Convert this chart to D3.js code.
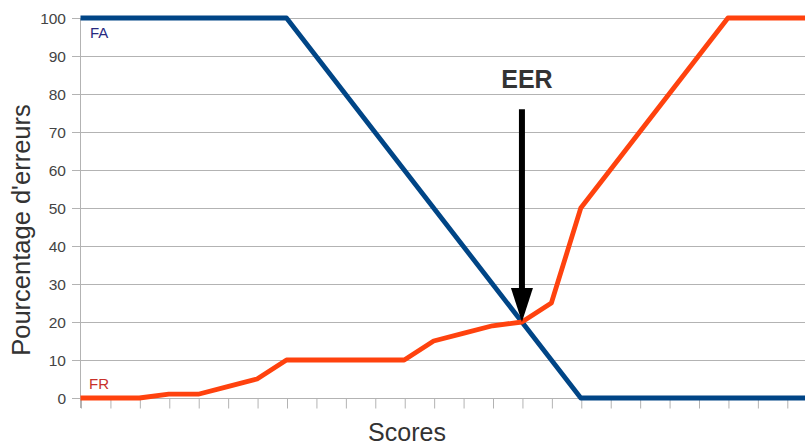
<!DOCTYPE html>
<html>
<head>
<meta charset="utf-8">
<script src="https://cdn.jsdelivr.net/npm/d3@7"></script>
<style>
html,body{margin:0;padding:0;background:#fff;}
svg{display:block;}
</style>
</head>
<body>
<div id="chart"></div>
<script>
const scores = d3.range(0, 26);
const faValues = [100,100,100,100,100,100,100,100,90,80,70,60,50,40,30,20,10,0,0,0,0,0,0,0,0,0];
const frValues = [0,0,0,1,1,3,5,10,10,10,10,10,15,17,19,20,25,50,60,70,80,90,100,100,100,100];
const yTicks = [0,10,20,30,40,50,60,70,80,90,100];
const seriesNames = ["FA", "FR"];
const eerPoint = {index: 15, value: 20, top: 76, label: "EER"};
const xTitle = "Scores";
const yTitle = "Pourcentage d'erreurs";

const W = 805, H = 446;
const FONT = "Liberation Sans, Arial, sans-serif";
const svg = d3.select("#chart").append("svg").attr("width", W).attr("height", H);

const x = d3.scaleLinear().domain([0, 24]).range([80.5, 786.8]);
const y = d3.scaleLinear().domain([0, 100]).range([398, 18]);

svg.append("defs").append("clipPath").attr("id","clip")
  .append("rect").attr("x", 0).attr("y", 0).attr("width", W).attr("height", H);

// gridlines
svg.append("g").selectAll("line").data(yTicks).join("line")
  .attr("x1", 72).attr("x2", W)
  .attr("y1", d => y(d) + 0.5).attr("y2", d => y(d) + 0.5)
  .attr("stroke", "#b3b3b3").attr("stroke-width", 1);

// left axis line
svg.append("line").attr("x1", 80.5).attr("x2", 80.5).attr("y1", y(100)).attr("y2", y(0)+10)
  .attr("stroke", "#b3b3b3").attr("stroke-width", 1);

// y tick labels
svg.append("g").selectAll("text").data(yTicks).join("text")
  .attr("x", 66).attr("y", d => y(d)).attr("dy", "0.36em")
  .attr("text-anchor", "end")
  .attr("font-family", FONT).attr("font-size", 15.5)
  .attr("fill", "#444").text(d => d);

// x ticks
const xAxis = d3.axisBottom(x).tickValues(d3.range(0, 25)).tickSize(10).tickFormat("");
const gx = svg.append("g").attr("transform", `translate(0.5,${y(0)+0.5})`).call(xAxis);
gx.select(".domain").remove();
gx.selectAll(".tick line").attr("stroke", "#b3b3b3");

// lines
const line = d3.line().x((d,i) => x(scores[i])).y(d => y(d)).curve(d3.curveLinear);
const g = svg.append("g").attr("clip-path", "url(#clip)");
g.append("path").datum(faValues).attr("d", line)
  .attr("fill", "none").attr("stroke", "#004586").attr("stroke-width", 4.8)
  .attr("stroke-linejoin", "round");
g.append("path").datum(frValues).attr("d", line)
  .attr("fill", "none").attr("stroke", "#ff420e").attr("stroke-width", 4.8)
  .attr("stroke-linejoin", "round");

// series labels
svg.append("text").attr("x", 90).attr("y", 38)
  .attr("font-family", FONT).attr("font-size", 15)
  .attr("fill", "#27297f").text(seriesNames[0]);
svg.append("text").attr("x", 89).attr("y", 389)
  .attr("font-family", FONT).attr("font-size", 15)
  .attr("fill", "#c8302a").text(seriesNames[1]);

// EER arrow
const ax = x(eerPoint.index);
const tipY = y(eerPoint.value);
svg.append("line").attr("x1", ax).attr("x2", ax)
  .attr("y1", y(eerPoint.top)).attr("y2", tipY - 28)
  .attr("stroke", "#000").attr("stroke-width", 6);
svg.append("path")
  .attr("d", `M${ax-11},${tipY-34} L${ax+11},${tipY-34} L${ax},${tipY} Z`)
  .attr("fill", "#000");
svg.append("text").attr("x", ax + 5).attr("y", 88)
  .attr("text-anchor", "middle")
  .attr("font-family", FONT).attr("font-weight", "bold").attr("font-size", 25)
  .attr("fill", "#333").text(eerPoint.label);

// axis titles
svg.append("text").attr("x", 407).attr("y", 441)
  .attr("text-anchor", "middle")
  .attr("font-family", FONT).attr("font-size", 25)
  .attr("fill", "#333").text(xTitle);
svg.append("text")
  .attr("transform", `translate(30,230) rotate(-90)`)
  .attr("text-anchor", "middle")
  .attr("font-family", FONT).attr("font-size", 25.5)
  .attr("fill", "#333").text(yTitle);
</script>
</body>
</html>
